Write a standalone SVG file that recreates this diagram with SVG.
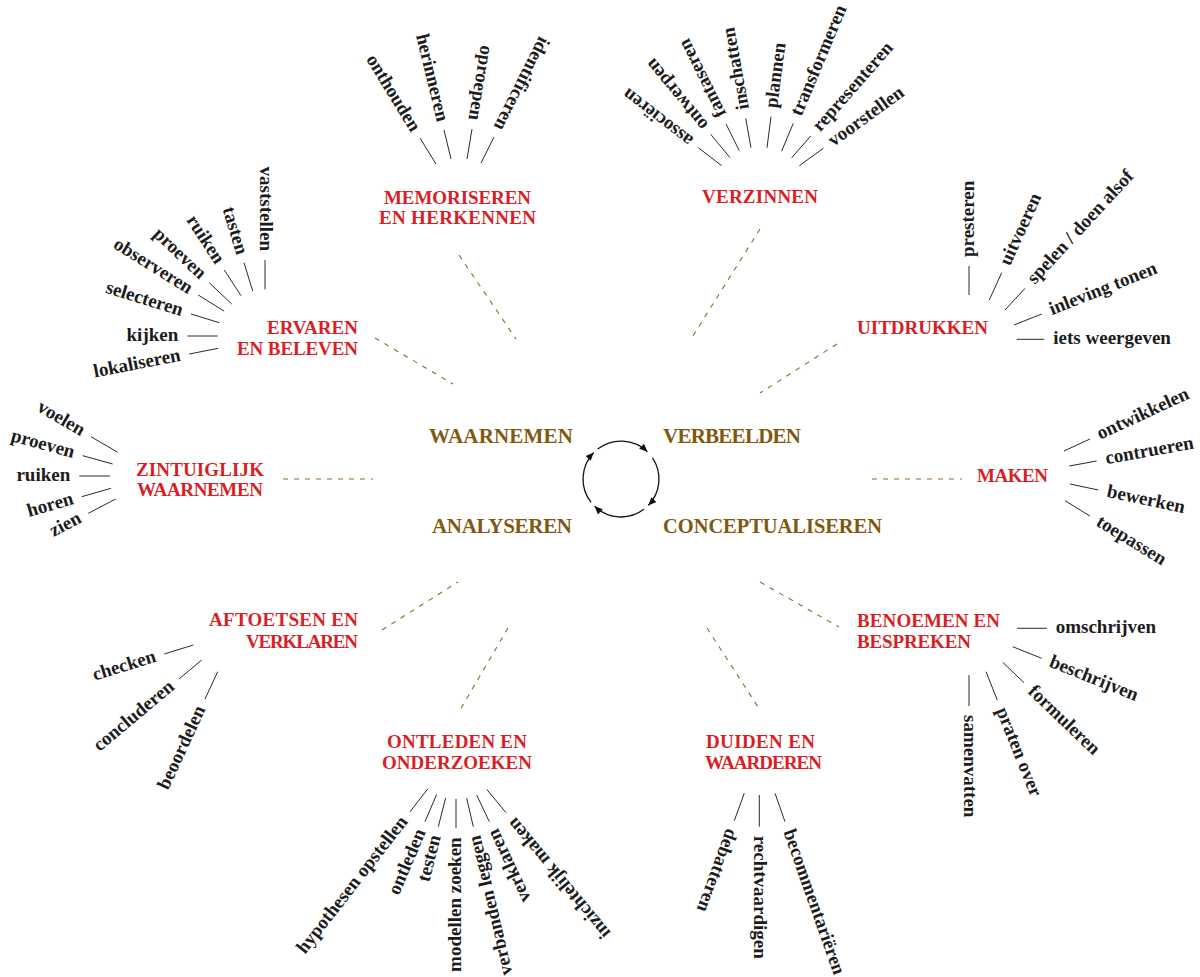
<svg xmlns="http://www.w3.org/2000/svg" width="1200" height="977" viewBox="0 0 1200 977">
<style>
text{font-family:"Liberation Serif","DejaVu Serif",serif;font-weight:bold}
.leaf{font-size:19px;fill:#1c1c1c}
.in{text-anchor:end}
.cat{font-size:19px;fill:#d81f26}
.phase{font-size:21px;fill:#80590f}
.tick{stroke:#2a2a2a;stroke-width:1}
.dash{stroke:#8f6b1e;stroke-width:1.1;stroke-dasharray:5 6}
.cyc{stroke:#111;fill:none;stroke-width:1.3;marker-end:url(#ah)}
</style>
<defs>
<marker id="ah" markerWidth="9" markerHeight="8" refX="8" refY="4" orient="auto" markerUnits="userSpaceOnUse">
<path d="M0,0.5 L8,4 L0,7.5 z" fill="#111"/>
</marker>
</defs>
<rect width="1200" height="977" fill="#fff"/>

<g id="connectors">
<g id="dashes">
<line class="dash" x1="459" y1="255" x2="516" y2="339"/>
<line class="dash" x1="760" y1="229" x2="691" y2="339"/>
<line class="dash" x1="375" y1="338" x2="453" y2="384"/>
<line class="dash" x1="837" y1="344" x2="760" y2="393"/>
<line class="dash" x1="283" y1="479" x2="373" y2="479"/>
<line class="dash" x1="872" y1="479" x2="962" y2="479"/>
<line class="dash" x1="382" y1="630" x2="458" y2="582"/>
<line class="dash" x1="508" y1="628" x2="460" y2="710"/>
<line class="dash" x1="707" y1="628" x2="760" y2="710"/>
<line class="dash" x1="760" y1="582" x2="839" y2="627"/>
</g>
<g id="cycle">
<path class="cyc" d="M597.6,449.1 A38,38 0 0 1 647.4,451.7"/>
<path class="cyc" d="M652.5,457.8 A38,38 0 0 1 648.3,505.4"/>
<path class="cyc" d="M643.9,509.3 A38,38 0 0 1 594.6,506.3"/>
<path class="cyc" d="M591.1,502.4 A38,38 0 0 1 593.7,452.6"/>
</g>
<g id="ticks">
<line class="tick" x1="420" y1="138" x2="436" y2="164"/>
<line class="tick" x1="444" y1="130" x2="451" y2="159"/>
<line class="tick" x1="472" y1="129" x2="467" y2="159"/>
<line class="tick" x1="494" y1="137" x2="481" y2="163"/>

<line class="tick" x1="698.3" y1="147.7" x2="721.7" y2="165.7"/>
<line class="tick" x1="710.7" y1="134.3" x2="730" y2="157.7"/>
<line class="tick" x1="726" y1="124" x2="739.3" y2="150.7"/>
<line class="tick" x1="745.7" y1="118.3" x2="751" y2="147.7"/>
<line class="tick" x1="771" y1="116.7" x2="767" y2="147.7"/>
<line class="tick" x1="793.3" y1="123.3" x2="781.7" y2="151"/>
<line class="tick" x1="810.7" y1="136" x2="791.7" y2="157.7"/>
<line class="tick" x1="823.3" y1="148.3" x2="799.3" y2="165.7"/>

<line class="tick" x1="265" y1="260" x2="265" y2="289.3"/>
<line class="tick" x1="244" y1="262.7" x2="252.7" y2="291"/>
<line class="tick" x1="224.3" y1="270" x2="241" y2="295.7"/>
<line class="tick" x1="209.3" y1="282.7" x2="231.7" y2="304"/>
<line class="tick" x1="198.3" y1="295" x2="224" y2="311"/>
<line class="tick" x1="191" y1="314" x2="219.3" y2="322.7"/>
<line class="tick" x1="187.3" y1="336" x2="217.7" y2="336"/>
<line class="tick" x1="189.3" y1="354" x2="218.3" y2="348.3"/>

<line class="tick" x1="969" y1="295" x2="969" y2="266"/>
<line class="tick" x1="989.3" y1="300" x2="1001.7" y2="272.7"/>
<line class="tick" x1="1005" y1="310" x2="1025" y2="288.3"/>
<line class="tick" x1="1014" y1="325" x2="1041.7" y2="314"/>
<line class="tick" x1="1016.7" y1="339.3" x2="1044.3" y2="339.3"/>

<line class="tick" x1="91" y1="436.7" x2="117.7" y2="452.3"/>
<line class="tick" x1="82.7" y1="455.7" x2="112.7" y2="464"/>
<line class="tick" x1="79.3" y1="476" x2="110" y2="476"/>
<line class="tick" x1="81.7" y1="496.7" x2="111" y2="488.3"/>
<line class="tick" x1="88.3" y1="513.3" x2="115.7" y2="499"/>

<line class="tick" x1="1064" y1="451" x2="1090" y2="439"/>
<line class="tick" x1="1069.3" y1="466" x2="1096.7" y2="461"/>
<line class="tick" x1="1070" y1="484" x2="1098.3" y2="490"/>
<line class="tick" x1="1065" y1="500.7" x2="1090" y2="516"/>

<line class="tick" x1="164.3" y1="654" x2="193.3" y2="645"/>
<line class="tick" x1="179" y1="679" x2="201.7" y2="660"/>
<line class="tick" x1="205" y1="699" x2="217.7" y2="671.7"/>

<line class="tick" x1="1017.3" y1="628.3" x2="1046.7" y2="628.3"/>
<line class="tick" x1="1012.7" y1="646.7" x2="1041.7" y2="658.3"/>
<line class="tick" x1="1002.7" y1="662.3" x2="1024" y2="682.7"/>
<line class="tick" x1="986" y1="671.7" x2="997.3" y2="700"/>
<line class="tick" x1="969" y1="675" x2="969" y2="706"/>

<line class="tick" x1="410" y1="811.7" x2="427.7" y2="789"/>
<line class="tick" x1="425" y1="821.7" x2="436.7" y2="794.3"/>
<line class="tick" x1="438.3" y1="826.7" x2="445.7" y2="797.7"/>
<line class="tick" x1="456" y1="828.3" x2="456" y2="799"/>
<line class="tick" x1="473.3" y1="826.7" x2="466.7" y2="798.3"/>
<line class="tick" x1="489.3" y1="821.7" x2="476.7" y2="795"/>
<line class="tick" x1="506" y1="812.7" x2="486.7" y2="789.3"/>

<line class="tick" x1="744.3" y1="793.3" x2="734.3" y2="820.7"/>
<line class="tick" x1="759.3" y1="795" x2="759.3" y2="826.7"/>
<line class="tick" x1="775" y1="793.3" x2="785" y2="821.7"/>
</g>
</g>

<g id="phases">
<text class="phase" x="429" y="443" textLength="144">WAARNEMEN</text>
<text class="phase" x="663" y="443" textLength="138">VERBEELDEN</text>
<text class="phase" x="432" y="533" textLength="140">ANALYSEREN</text>
<text class="phase" x="663" y="533" textLength="219" lengthAdjust="spacingAndGlyphs">CONCEPTUALISEREN</text>
</g>

<g id="memoriseren">
<text class="cat" x="384" y="204" textLength="147">MEMORISEREN</text>
<text class="cat" x="379" y="224" textLength="157">EN HERKENNEN</text>
<text class="leaf in" transform="translate(420,138) rotate(58.4)" x="-9" dy="0.26em">onthouden</text>
<text class="leaf in" transform="translate(444,130) rotate(76.4)" x="-9" dy="0.26em">herinneren</text>
<text class="leaf in" transform="translate(472,129) rotate(99.5)" x="-9" dy="0.26em">oproepen</text>
<text class="leaf in" transform="translate(494,137) rotate(116.6)" x="-9" dy="0.26em">identificeren</text>
</g>

<g id="verzinnen">
<text class="cat" x="702" y="203" textLength="116">VERZINNEN</text>
<text class="leaf" transform="translate(698.3,147.7) rotate(-142.4)" x="9" dy="0.26em">associëren</text>
<text class="leaf" transform="translate(710.7,134.3) rotate(-129.5)" x="9" dy="0.26em">ontwerpen</text>
<text class="leaf" transform="translate(726,124) rotate(-116.5)" x="9" dy="0.26em">fantaseren</text>
<text class="leaf" transform="translate(745.7,118.3) rotate(-100.2)" x="9" dy="0.26em">inschatten</text>
<text class="leaf" transform="translate(771,116.7) rotate(-82.6)" x="9" dy="0.26em">plannen</text>
<text class="leaf" transform="translate(793.3,123.3) rotate(-67.3)" x="9" dy="0.26em">transformeren</text>
<text class="leaf" transform="translate(810.7,136) rotate(-48.8)" x="9" dy="0.26em">representeren</text>
<text class="leaf" transform="translate(823.3,148.3) rotate(-35.9)" x="9" dy="0.26em">voorstellen</text>
</g>

<g id="ervaren">
<text class="cat in" x="358" y="334" textLength="91">ERVAREN</text>
<text class="cat in" x="358" y="355" textLength="121">EN BELEVEN</text>
<text class="leaf in" transform="translate(265,260) rotate(90)" x="-9" dy="0.26em">vaststellen</text>
<text class="leaf in" transform="translate(244,262.7) rotate(73)" x="-9" dy="0.26em">tasten</text>
<text class="leaf in" transform="translate(224.3,270) rotate(57)" x="-9" dy="0.26em">ruiken</text>
<text class="leaf in" transform="translate(209.3,282.7) rotate(43.6)" x="-9" dy="0.26em">proeven</text>
<text class="leaf in" transform="translate(198.3,295) rotate(31.9)" x="-9" dy="0.26em">observeren</text>
<text class="leaf in" transform="translate(191,314) rotate(17.1)" x="-9" dy="0.26em">selecteren</text>
<text class="leaf in" transform="translate(187.3,336)" x="-9" dy="0.26em">kijken</text>
<text class="leaf in" transform="translate(189.3,354) rotate(-11.1)" x="-9" dy="0.26em">lokaliseren</text>
</g>

<g id="uitdrukken">
<text class="cat" x="857" y="334" textLength="131">UITDRUKKEN</text>
<text class="leaf" transform="translate(969,266) rotate(-90)" x="9" dy="0.26em">presteren</text>
<text class="leaf" transform="translate(1001.7,272.7) rotate(-65.6)" x="9" dy="0.26em">uitvoeren</text>
<text class="leaf" transform="translate(1025,288.3) rotate(-47.3)" x="9" dy="0.26em">spelen / doen alsof</text>
<text class="leaf" transform="translate(1041.7,314) rotate(-21.7)" x="9" dy="0.26em">inleving tonen</text>
<text class="leaf" transform="translate(1044.3,339.3)" x="9" dy="0.26em">iets weergeven</text>
</g>

<g id="zintuiglijk">
<text class="cat" x="136" y="476" textLength="128">ZINTUIGLIJK</text>
<text class="cat" x="137" y="496" textLength="126">WAARNEMEN</text>
<text class="leaf in" transform="translate(91,436.7) rotate(30.3)" x="-9" dy="0.26em">voelen</text>
<text class="leaf in" transform="translate(82.7,455.7) rotate(15.5)" x="-9" dy="0.26em">proeven</text>
<text class="leaf in" transform="translate(79.3,476)" x="-9" dy="0.26em">ruiken</text>
<text class="leaf in" transform="translate(81.7,496.7) rotate(-16)" x="-9" dy="0.26em">horen</text>
<text class="leaf in" transform="translate(88.3,513.3) rotate(-27.6)" x="-9" dy="0.26em">zien</text>
</g>

<g id="maken">
<text class="cat" x="977" y="482" textLength="71">MAKEN</text>
<text class="leaf" transform="translate(1090,439) rotate(-24.8)" x="9" dy="0.26em">ontwikkelen</text>
<text class="leaf" transform="translate(1096.7,461) rotate(-10.3)" x="9" dy="0.26em">contrueren</text>
<text class="leaf" transform="translate(1098.3,490) rotate(12)" x="9" dy="0.26em">bewerken</text>
<text class="leaf" transform="translate(1090,516) rotate(31.5)" x="9" dy="0.26em">toepassen</text>
</g>

<g id="aftoetsen">
<text class="cat in" x="358" y="626" textLength="149">AFTOETSEN EN</text>
<text class="cat in" x="358" y="648" textLength="112">VERKLAREN</text>
<text class="leaf in" transform="translate(164.3,654) rotate(-17.2)" x="-9" dy="0.26em">checken</text>
<text class="leaf in" transform="translate(179,679) rotate(-39.9)" x="-9" dy="0.26em">concluderen</text>
<text class="leaf in" transform="translate(205,699) rotate(-65.1)" x="-9" dy="0.26em">beoordelen</text>
</g>

<g id="benoemen">
<text class="cat" x="857" y="627" textLength="143">BENOEMEN EN</text>
<text class="cat" x="857" y="648" textLength="114">BESPREKEN</text>
<text class="leaf" transform="translate(1046.7,628.3)" x="9" dy="0.26em">omschrijven</text>
<text class="leaf" transform="translate(1041.7,658.3) rotate(21.8)" x="9" dy="0.26em">beschrijven</text>
<text class="leaf" transform="translate(1024,682.7) rotate(43.8)" x="9" dy="0.26em">formuleren</text>
<text class="leaf" transform="translate(997.3,700) rotate(68.2)" x="9" dy="0.26em">praten over</text>
<text class="leaf" transform="translate(969,706) rotate(90)" x="9" dy="0.26em">samenvatten</text>
</g>

<g id="ontleden">
<text class="cat" x="387" y="748" textLength="140">ONTLEDEN EN</text>
<text class="cat" x="382" y="769" textLength="150">ONDERZOEKEN</text>
<text class="leaf in" transform="translate(410,811.7) rotate(-52.1)" x="-9" dy="0.26em">hypothesen opstellen</text>
<text class="leaf in" transform="translate(425,821.7) rotate(-66.9)" x="-9" dy="0.26em">ontleden</text>
<text class="leaf in" transform="translate(438.3,826.7) rotate(-75.7)" x="-9" dy="0.26em">testen</text>
<text class="leaf in" transform="translate(456,828.3) rotate(-90)" x="-9" dy="0.26em">modellen zoeken</text>
<text class="leaf in" transform="translate(473.3,826.7) rotate(-103.1)" x="-9" dy="0.26em">verbanden leggen</text>
<text class="leaf in" transform="translate(489.3,821.7) rotate(-115.3)" x="-9" dy="0.26em">verklaren</text>
<text class="leaf in" transform="translate(506,812.7) rotate(-129.5)" x="-9" dy="0.26em">inzichtelijk maken</text>
</g>

<g id="duiden">
<text class="cat" x="706" y="748" textLength="109">DUIDEN EN</text>
<text class="cat" x="705" y="769" textLength="117">WAARDEREN</text>
<text class="leaf" transform="translate(734.3,820.7) rotate(110)" x="9" dy="0.26em">debatteren</text>
<text class="leaf" transform="translate(759.3,826.7) rotate(90)" x="9" dy="0.26em">rechtvaardigen</text>
<text class="leaf" transform="translate(785,821.7) rotate(70.6)" x="9" dy="0.26em">becommentariëren</text>
</g>
</svg>
